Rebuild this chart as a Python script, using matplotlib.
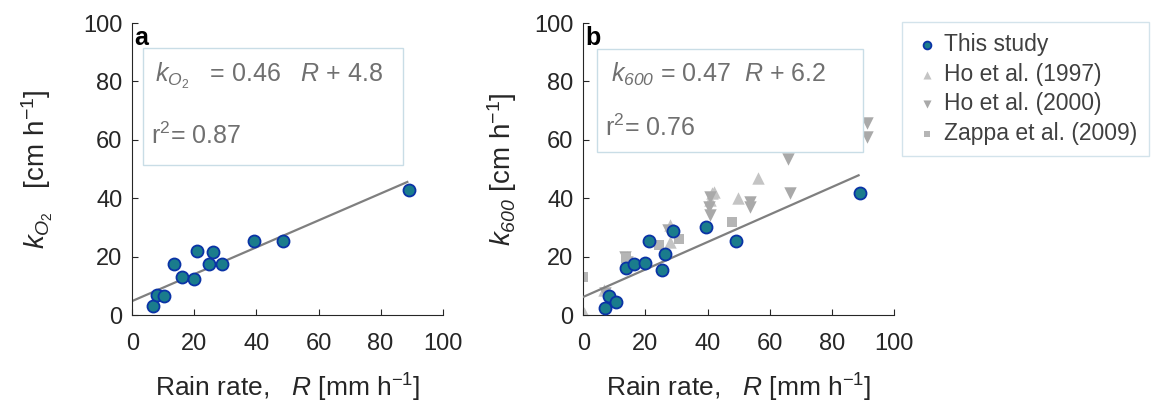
import numpy as np
import matplotlib
matplotlib.use('Agg')
import matplotlib.pyplot as plt

plt.rcParams['font.family'] = ['Liberation Sans', 'DejaVu Sans']
plt.rcParams['mathtext.fontset'] = 'custom'
plt.rcParams['mathtext.rm'] = 'Liberation Sans'
plt.rcParams['mathtext.it'] = 'Liberation Sans:italic'
plt.rcParams['mathtext.bf'] = 'Liberation Sans:bold'
# sf slot used for the italic digits of k600 (mathtext keeps digits upright in \mathit)
plt.rcParams['mathtext.sf'] = 'Liberation Sans:italic'

# this study, panel a (k_O2) and panel b (k600)
rain_a = [6.8, 7.8, 10.2, 13.4, 16.1, 19.9, 21.0, 24.8, 26.1, 28.8, 39.3, 48.6, 89.0]
ko2 = [3.1, 6.8, 6.6, 17.5, 13.1, 12.2, 22.0, 17.5, 21.5, 17.5, 25.5, 25.5, 42.8]

rain_b = [7.0, 8.3, 10.5, 13.6, 16.3, 20.0, 21.1, 25.2, 26.3, 29.0, 39.4, 49.1, 89.1]
k600 = [2.3, 6.5, 4.6, 16.0, 17.4, 17.8, 25.2, 15.4, 20.8, 28.8, 30.0, 25.2, 41.9]

# literature data
ho97_r = [0.2, 6.7, 14.0, 27.9, 27.9, 41.3, 40.8, 42.0, 49.9, 56.3, 82.1, 83.0, 84.5]
ho97_k = [0.6, 8.6, 19.8, 30.8, 25.1, 41.7, 39.4, 42.0, 40.0, 46.8, 59.4, 60.0, 60.8]

ho00_r = [7.0, 13.4, 14.0, 27.4, 40.3, 40.8, 40.8, 53.7, 53.7, 66.0, 66.6, 91.2, 91.2]
ho00_k = [7.4, 20.0, 18.3, 29.1, 37.1, 34.2, 40.5, 38.8, 37.0, 53.3, 41.7, 65.6, 60.8]

zap_r = [0.0, 13.6, 24.4, 30.9, 47.8]
zap_k = [12.9, 19.5, 24.0, 25.9, 31.8]

fit_a = (0.46, 4.8)
fit_b = (0.47, 6.2)
fit_xmax = 88.6

ticks = [0, 20, 40, 60, 80, 100]

blue_face = '#1a7c8c'
blue_edge = '#0a33a6'
line_gray = '#7f7f7f'
text_gray = '#707070'
axis_col = '#262626'
box_edge = '#c9dde6'

W, H = 1165, 409
fig = plt.figure(figsize=(W / 100, H / 100), dpi=100)
ax_a = fig.add_axes([132.3 / W, 1 - 315 / H, 310.4 / W, 292 / H])
ax_b = fig.add_axes([583.3 / W, 1 - 315 / H, 310.7 / W, 292 / H])


def style_axes(ax):
    ax.set_xlim(0, 100)
    ax.set_ylim(0, 100)
    ax.set_xticks(ticks)
    ax.set_yticks(ticks)
    ax.tick_params(direction='in', length=4, width=0.8, labelsize=17,
                   colors=axis_col, pad=7)
    ax.tick_params(axis='x', pad=13)
    for side in ['top', 'right']:
        ax.spines[side].set_visible(False)
    for side in ['left', 'bottom']:
        ax.spines[side].set_color(axis_col)
        ax.spines[side].set_linewidth(0.8)
    ax.set_xlabel(r'Rain rate,   $R$ [mm h$^{-1}$]', fontsize=19, color=axis_col,
                  labelpad=12)


def eq_box(x0, y0, x1, y1):
    # box given in figure pixels
    rect = plt.Rectangle((x0 / W, 1 - y1 / H), (x1 - x0) / W, (y1 - y0) / H,
                         transform=fig.transFigure, facecolor='white',
                         edgecolor=box_edge, linewidth=1.0, zorder=5)
    fig.patches.append(rect)


xf = np.array([0, fit_xmax])

# panel a
style_axes(ax_a)
ax_a.plot(xf, fit_a[0] * xf + fit_a[1], color=line_gray, lw=1.6, zorder=2)
ax_a.scatter(rain_a, ko2, s=75, c=blue_face, edgecolors=blue_edge, linewidths=1.3,
             zorder=3)
ax_a.set_ylabel(r'$k_{O_2}$   [cm h$^{-1}$]', fontsize=20, color=axis_col, labelpad=20)
ax_a.text(0.005, 0.99, 'a', transform=ax_a.transAxes, fontsize=18, fontweight='bold',
          va='top', ha='left')
eq_box(143.3, 48.3, 403, 164.5)
fig.text(155 / W, 1 - 76 / H, r'$k_{O_2}$   = 0.46   $R$ + 4.8', fontsize=18,
         color=text_gray, va='center', ha='left', zorder=6)
fig.text(151 / W, 1 - 136 / H, r'r$^2$= 0.87', fontsize=18,
         color=text_gray, va='center', ha='left', zorder=6)

# panel b
style_axes(ax_b)
ax_b.scatter(ho97_r, ho97_k, marker='^', s=80, c='#c4c4c4', linewidths=0, zorder=2,
             label='Ho et al. (1997)')
ax_b.scatter(ho00_r, ho00_k, marker='v', s=80, c='#a9a9a9', linewidths=0, zorder=2,
             label='Ho et al. (2000)')
ax_b.scatter(zap_r, zap_k, marker='s', s=45, c='#b5b5b5', linewidths=0, zorder=2,
             label='Zappa et al. (2009)')
ax_b.plot(xf, fit_b[0] * xf + fit_b[1], color=line_gray, lw=1.6, zorder=3)
ax_b.scatter(rain_b, k600, s=75, c=blue_face, edgecolors=blue_edge, linewidths=1.3,
             zorder=4, label='This study')
ax_b.set_ylabel(r'$k_{\mathsf{600}}$ [cm h$^{-1}$]', fontsize=20, color=axis_col,
                labelpad=11)
ax_b.text(0.005, 0.99, 'b', transform=ax_b.transAxes, fontsize=18, fontweight='bold',
          va='top', ha='left')
eq_box(597, 48.5, 863, 152)
fig.text(611 / W, 1 - 74 / H, r'$k_{\mathsf{600}}$ = 0.47  $R$ + 6.2', fontsize=18,
         color=text_gray, va='center', ha='left', zorder=6)
fig.text(605 / W, 1 - 128 / H, r'r$^2$= 0.76', fontsize=18,
         color=text_gray, va='center', ha='left', zorder=6)

# legend
handles, labels = ax_b.get_legend_handles_labels()
order = [3, 0, 1, 2]
leg = fig.legend([handles[i] for i in order], [labels[i] for i in order],
                 loc='upper left', bbox_to_anchor=(902 / W, 1 - 22 / H),
                 fontsize=16.5, frameon=True, fancybox=False, handletextpad=0.15,
                 labelspacing=0.28, borderpad=0.5, borderaxespad=0,
                 markerscale=0.65, labelcolor='#404040', handlelength=1.2)
leg.get_frame().set_edgecolor(box_edge)
leg.get_frame().set_linewidth(1.0)

fig.savefig('out.png', dpi=100)
